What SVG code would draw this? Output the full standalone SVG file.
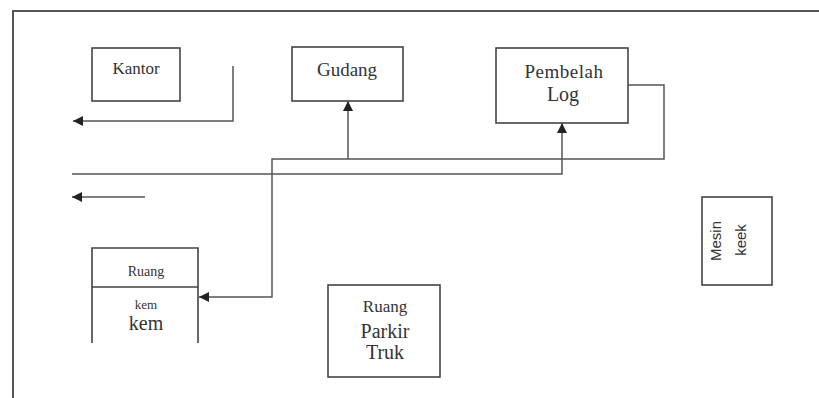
<svg xmlns="http://www.w3.org/2000/svg" width="819" height="398" viewBox="0 0 819 398">
<style>
.box{fill:none;stroke:#444;stroke-width:1.6}
.ln{fill:none;stroke:#555;stroke-width:1.5}
.t{font-family:"Liberation Serif","Times New Roman",serif;fill:#333;text-anchor:middle}
.s{font-family:"Liberation Sans",Arial,sans-serif;fill:#333;text-anchor:middle}
</style>
<defs>
<marker id="ah" viewBox="0 0 10 10" refX="10" refY="5" markerWidth="10" markerHeight="10" markerUnits="userSpaceOnUse" orient="auto">
<path d="M0,0 L10,5 L0,10 z" fill="#222"/>
</marker>
</defs>
<rect width="819" height="398" fill="#fff"/>
<g id="frame">
<path d="M13,398 V11 H819" fill="none" stroke="#555" stroke-width="2"/>
</g>
<g id="kantor">
<rect class="box" x="92" y="48" width="88" height="53"/>
<text class="t" x="136" y="74" font-size="17">Kantor</text>
</g>
<g id="gudang">
<rect class="box" x="292" y="47" width="111" height="54"/>
<text class="t" x="347" y="76" font-size="19">Gudang</text>
</g>
<g id="pembelah">
<rect class="box" x="496" y="48" width="132" height="75"/>
<text class="t" x="564" y="78" font-size="19" letter-spacing="0.5">Pembelah</text>
<text class="t" x="563" y="101" font-size="20">Log</text>
</g>
<g id="ruang-kerja">
<path class="box" d="M92,343 V248 H198 V343 M92,287 H198"/>
<text class="t" x="146" y="276" font-size="14">Ruang</text>
<text class="t" x="146" y="309" font-size="13">kem</text>
<text class="t" x="146" y="330" font-size="20">kem</text>
</g>
<g id="parkir">
<rect class="box" x="328" y="285" width="112" height="92"/>
<text class="t" x="385" y="312" font-size="17">Ruang</text>
<text class="t" x="385" y="338" font-size="20">Parkir</text>
<text class="t" x="385" y="359" font-size="20">Truk</text>
</g>
<g id="mesin">
<rect class="box" x="702" y="197" width="70" height="88"/>
<text class="s" font-size="15" transform="translate(721,241) rotate(-90)">Mesin</text>
<text class="s" font-size="15" transform="translate(746,240) rotate(-90)">keek</text>
</g>
<g id="connectors">
<path class="ln" d="M233,66 V121 H73" marker-end="url(#ah)"/>
<path class="ln" d="M628,85 H664 V159 H272 V297 H199" marker-end="url(#ah)"/>
<path class="ln" d="M348,159 V101" marker-end="url(#ah)"/>
<path class="ln" d="M72,174 H562 V123" marker-end="url(#ah)"/>
<path class="ln" d="M145,197 H72" marker-end="url(#ah)"/>
</g>
</svg>
